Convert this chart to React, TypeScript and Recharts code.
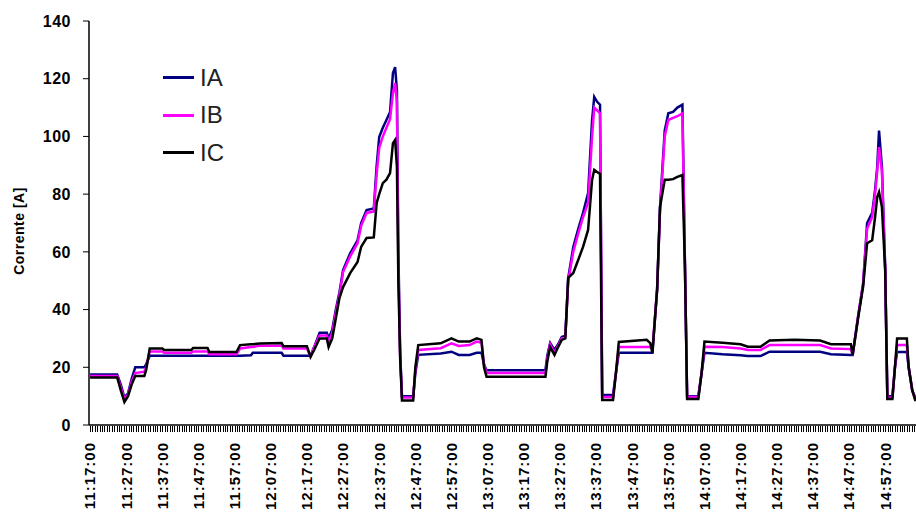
import React from 'react';
import { LineChart, Line, XAxis, YAxis } from 'recharts';

// sample times, in minutes after 11:17:00
const minutes = [
  0, 7.5, 8.5, 9.5, 10.5, 11.5, 12.5, 15, 15.5, 16.5,
  20, 20.5, 28, 28.5, 32.5, 33, 40.5, 41.5, 44.5, 45,
  47, 53, 53.5, 60, 61, 62, 63.5, 65.5, 66, 67,
  68, 69, 70, 72, 74, 75, 76.5, 78.5, 79.3, 80,
  81, 82, 83, 83.8, 84.4, 84.9, 85.3, 85.8, 86.3, 89.4,
  90, 90.8, 97, 100, 102, 105, 107, 108.3, 109, 109.7,
  126, 126.5, 127.3, 128.5, 129.5, 130.5, 131.5, 132.3, 133.7, 135,
  136.4, 137.8, 138.9, 139.5, 140.3, 141.1, 141.7, 144.7, 145.5, 146.3,
  154, 155, 155.6, 156.9, 157.7, 159, 160, 161.3, 162.5, 163.9,
  164.6, 165.2, 168.3, 169.2, 170, 175, 180, 182, 185.5, 188,
  195, 202, 205, 210.5, 211, 212.5, 213.9, 215, 216.4, 217.2,
  217.8, 218.3, 219.1, 220, 220.6, 222, 222.7, 223.3, 226, 226.5,
  227.5, 228.3, 236,
];

const iaValues = [
  17.5, 17.5, 14, 9.5, 11, 16, 20, 20, 21, 24,
  24, 24, 24, 24, 24, 24, 24, 24, 24.2, 25,
  25, 25, 24, 24, 24, 27, 32, 32, 30, 33,
  40, 46, 53.7, 59.6, 64, 70, 74.5, 75, 90, 99.8,
  103, 105.7, 108.5, 122, 124, 116, 60, 25, 10, 10,
  18, 24.3, 24.8, 25.4, 24.3, 24.3, 25, 25, 21, 19,
  19, 24, 28.4, 26, 28, 30.5, 31, 51, 61.7, 67.6,
  73.5, 80.4, 105.7, 113.7, 112, 111, 10.4, 10.4, 18, 25,
  25, 25, 25, 47, 75.5, 102, 108, 108.5, 110, 111,
  55, 10, 10, 18, 25, 24.5, 24.2, 23.9, 23.9, 25.4,
  25.4, 25.4, 24.5, 24.3, 24.3, 37.5, 49, 70, 73.5, 81.4,
  89.4, 102, 89.4, 54.7, 10, 10, 20, 25.3, 25.3, 20,
  12, 9.5, 9.5,
];

const ibValues = [
  17, 17, 13, 9, 10.5, 15, 18, 18.5, 20, 25.5,
  25.5, 25, 25, 25.5, 25.5, 24.5, 24.5, 26.5, 27, 27,
  27.5, 27.5, 26.5, 26.5, 23.8, 27, 31, 31, 28.5, 32,
  39, 45, 53, 58.5, 63, 69, 73.5, 74, 87, 96,
  100, 103, 106, 115, 118.5, 112, 55, 24, 9.5, 9.5,
  19, 26, 26.6, 28.3, 27.4, 27.7, 28.9, 28.5, 21, 18,
  18, 23, 28, 25, 27.5, 30, 30.5, 50, 60, 66,
  72, 77, 100, 110, 109, 108, 9.7, 9.7, 18, 27,
  27, 27, 26, 47, 74, 100, 105.7, 106.4, 107, 108,
  55, 9.7, 9.7, 18, 27.1, 27, 26.5, 26, 26, 27.7,
  27.7, 27.7, 26.5, 26.3, 24.3, 37.5, 49, 68, 72, 80,
  88, 96.3, 88, 54, 9.5, 9.5, 20, 27.7, 27.7, 20,
  12, 9, 9,
];

const icValues = [
  16.5, 16.5, 12, 8, 10, 14, 17, 17, 19, 26.5,
  26.5, 26, 26, 26.7, 26.7, 25.3, 25.3, 27.7, 28, 28,
  28.2, 28.4, 27.3, 27.3, 23.6, 26, 30, 30, 27, 30,
  37, 44, 47.8, 52.7, 56.5, 61.7, 64.8, 65, 77, 80,
  83.8, 85, 87.3, 97.7, 98.8, 89.5, 50, 23, 8.5, 8.5,
  20, 27.7, 28.3, 30, 28.9, 28.9, 30, 29.5, 20, 16.7,
  16.7, 22, 27, 24.3, 27, 29.5, 30, 51, 52.7, 57,
  61.7, 67.6, 85, 88.4, 87.7, 87, 8.7, 8.7, 18, 28.8,
  29.5, 28.4, 25, 47, 75.5, 85, 85, 85.2, 86, 86.6,
  54.7, 9, 9, 18, 28.9, 28.5, 28, 27.1, 27.1, 29.3,
  29.5, 29.3, 28, 28, 24.3, 37, 48, 63, 64, 72,
  79, 80.7, 75.5, 54, 9, 9, 20, 30, 30, 20,
  12, 8.7, 8.7,
];

const timeLabels = [
  '11:17:00', '11:27:00', '11:37:00', '11:47:00', '11:57:00', '12:07:00',
  '12:17:00', '12:27:00', '12:37:00', '12:47:00', '12:57:00', '13:07:00',
  '13:17:00', '13:27:00', '13:37:00', '13:47:00', '13:57:00', '14:07:00',
  '14:17:00', '14:27:00', '14:37:00', '14:47:00', '14:57:00', '15:07:00',
];

const yTicks = [0, 20, 40, 60, 80, 100, 120, 140];

const series = [
  { key: 'IA', color: '#000080' },
  { key: 'IB', color: '#FF00FF' },
  { key: 'IC', color: '#000000' },
];

const data = minutes.map((t, i) => ({
  t,
  IA: iaValues[i],
  IB: ibValues[i],
  IC: icValues[i],
}));

const chartWidth = 948;
const chartHeight = 519;
const yAxisWidth = 89;
const xAxisHeight = 94;
const marginTop = 21;
const marginRight = 5;
const firstMinute = -0.3;
const lastMinute = 236;

// labels every 10 min, small marks every 40 s
const labelEvery = 10;
const markStep = 2 / 3;
const xTicks = timeLabels.map((_, i) => i * labelEvery);

const pxPerMinute = (chartWidth - yAxisWidth - marginRight) / (lastMinute - firstMinute);
const markPitch = pxPerMinute * markStep;
const axisY = chartHeight - xAxisHeight;
const firstMarkX = yAxisWidth + (0 - firstMinute) * pxPerMinute;

const font = '"Liberation Sans", Arial, sans-serif';

const TimeTick = (props: any) => {
  const { x, y, payload } = props;
  const label = timeLabels[Math.round(payload.value / labelEvery)];
  const ty = y + 17;
  return (
    <text
      x={x}
      y={ty}
      transform={`rotate(-90 ${x} ${ty})`}
      textAnchor="end"
      dy="0.36em"
      fontFamily={font}
      fontWeight="bold"
      fontSize={15}
      letterSpacing={1}
      fill="#000"
    >
      {label}
    </text>
  );
};

const AxisTitle = () => (
  <text
    x={19}
    y={231}
    transform="rotate(-90 19 231)"
    textAnchor="middle"
    dy="0.36em"
    fontFamily={font}
    fontWeight="bold"
    fontSize={14}
    letterSpacing={0.5}
    fill="#000"
  >
    Corrente [A]
  </text>
);

export default function App() {
  return (
    <div style={{ position: 'fixed', left: 0, top: 0, width: 916, height: 519, overflow: 'hidden', background: '#fff' }}>
      <LineChart
        width={chartWidth}
        height={chartHeight}
        data={data}
        margin={{ top: marginTop, right: marginRight, bottom: 0, left: 0 }}
      >
        <XAxis
          dataKey="t"
          type="number"
          domain={[firstMinute, lastMinute]}
          ticks={xTicks}
          interval={0}
          height={xAxisHeight}
          tickSize={0}
          tickMargin={0}
          axisLine={{ stroke: '#000', strokeWidth: 1.5 }}
          tickLine={false}
          tick={<TimeTick />}
        />
        {/* top edge of the plot frame */}
        <XAxis
          xAxisId="top"
          orientation="top"
          dataKey="t"
          type="number"
          domain={[firstMinute, lastMinute]}
          height={0}
          tick={false}
          tickLine={false}
          axisLine={{ stroke: '#000', strokeWidth: 1.5 }}
        />
        <YAxis
          width={yAxisWidth}
          domain={[0, 140]}
          ticks={yTicks}
          interval={0}
          tickSize={6}
          tickMargin={12}
          axisLine={{ stroke: '#000', strokeWidth: 1.5 }}
          tickLine={{ stroke: '#000' }}
          tick={{ fontFamily: font, fontWeight: 'bold', fontSize: 16, letterSpacing: 0.5, fill: '#000' }}
          label={{ content: () => <AxisTitle /> }}
        />
        {series.map((s) => (
          <Line
            key={s.key}
            type="linear"
            dataKey={s.key}
            stroke={s.color}
            strokeWidth={2.5}
            dot={false}
            isAnimationActive={false}
          />
        ))}
      </LineChart>
      {/* row of 40 s marks hanging under the time axis */}
      <div
        style={{
          position: 'absolute',
          left: firstMarkX - 0.5,
          top: axisY + 1,
          width: 916 - firstMarkX,
          height: 6,
          backgroundImage: `repeating-linear-gradient(to right, #000 0px, #000 1px, transparent 1px, transparent ${markPitch}px)`,
        }}
      />
      <div style={{ position: 'absolute', left: 163, top: 59, fontFamily: font }}>
        {series.map((s) => (
          <div key={s.key} style={{ display: 'flex', alignItems: 'center', height: 37.5 }}>
            <span style={{ display: 'inline-block', width: 31, height: 3, background: s.color, marginRight: 6 }} />
            <span style={{ fontSize: 24, color: '#222', lineHeight: '24px' }}>{s.key}</span>
          </div>
        ))}
      </div>
    </div>
  );
}
